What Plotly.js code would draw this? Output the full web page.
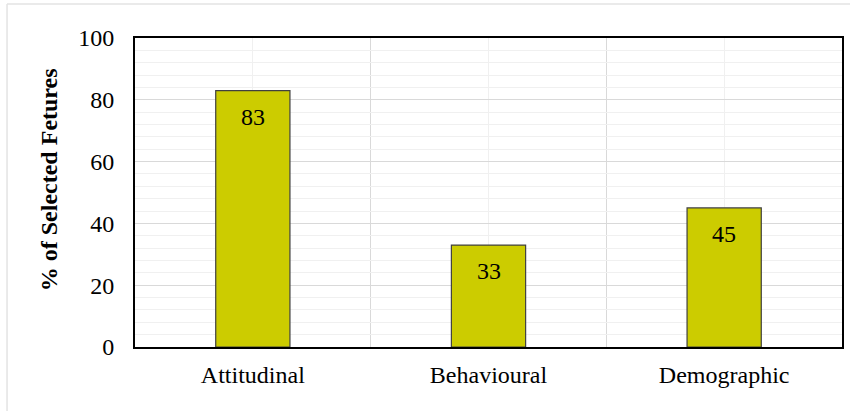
<!DOCTYPE html>
<html>
<head>
<meta charset="utf-8">
<script src="https://cdn.plot.ly/plotly-3.0.1.min.js"></script>
<style>
html, body { margin: 0; padding: 0; background: #ffffff; }
#chart { width: 850px; height: 411px; }
</style>
</head>
<body>
<div id="chart"></div>
<script>
const categories = ["Attitudinal", "Behavioural", "Demographic"];
const values = [83, 33, 45];
const yTitle = "% of Selected Fetures";

const positions = categories.map((c, i) => i);
const FONT = "Liberation Serif";

const trace = {
  type: "bar",
  x: positions,
  y: values,
  width: 0.315,
  marker: { color: "#CCCC00", line: { color: "#404040", width: 1.2 } },
  hoverinfo: "skip"
};

const annotations = values.map((v, i) => ({
  x: positions[i], y: v, xref: "x", yref: "y",
  text: String(v), showarrow: false,
  yanchor: "middle", yshift: -26,
  font: { family: FONT, size: 24, color: "#000000" }
}));
annotations.push({
  xref: "paper", yref: "paper", x: -0.1215, y: 0.54,
  xanchor: "center", yanchor: "middle",
  text: "<b>" + yTitle + "</b>", textangle: -90, showarrow: false,
  font: { family: FONT, size: 24, color: "#000000" }
});

const layout = {
  width: 850, height: 411,
  margin: { l: 135, r: 8, t: 38, b: 64 },
  paper_bgcolor: "#ffffff",
  plot_bgcolor: "#ffffff",
  showlegend: false,
  font: { family: FONT, size: 24, color: "#000000" },
  xaxis: {
    range: [-0.5, 2.5],
    tickmode: "array",
    tickvals: positions,
    ticktext: categories,
    tickfont: { family: FONT, size: 24, color: "#000000" },
    showgrid: true, gridcolor: "#f0f0f0", gridwidth: 1,
    minor: { tickmode: "array", tickvals: [0.5, 1.5], showgrid: true, gridcolor: "#d9d9d9", gridwidth: 1.5, ticks: "" },
    ticks: "", ticklabelstandoff: 5,
    showline: true, linecolor: "#000000", linewidth: 2, mirror: true,
    zeroline: false, fixedrange: true
  },
  yaxis: {
    range: [0, 100],
    dtick: 20, tick0: 0,
    tickfont: { family: FONT, size: 24, color: "#000000" },
    showgrid: true, gridcolor: "#d9d9d9", gridwidth: 1.2,
    minor: { dtick: 4, showgrid: true, gridcolor: "#f0f0f0", gridwidth: 1, ticks: "" },
    ticks: "", ticklabelstandoff: 14,
    showline: true, linecolor: "#000000", linewidth: 2, mirror: true,
    zeroline: false, fixedrange: true
  },
  annotations: annotations,
  shapes: [
    { type: "line", xref: "paper", yref: "paper", x0: -0.181, x1: 1.02, y0: 1.110, y1: 1.110, line: { color: "#e3e3e3", width: 1.5 } },
    { type: "line", xref: "paper", yref: "paper", x0: -0.181, x1: -0.181, y0: 1.110, y1: -0.22, line: { color: "#e3e3e3", width: 1.5 } }
  ]
};

Plotly.newPlot("chart", [trace], layout, { displayModeBar: false, staticPlot: true });
</script>
</body>
</html>
